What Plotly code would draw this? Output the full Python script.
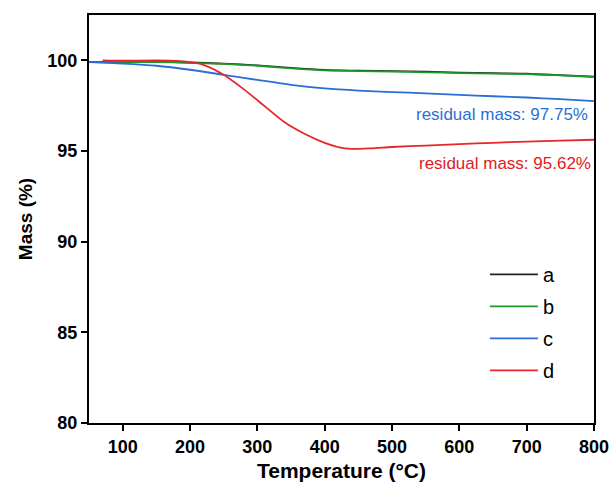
import plotly.graph_objects as go

# TGA curves: temperature (°C) vs. remaining mass (%)
temp_a = [50, 100, 150, 200, 250, 300, 350, 400, 450, 500, 550, 600, 650, 700, 750, 800]
mass_a = [99.92, 99.92, 99.92, 99.88, 99.82, 99.72, 99.58, 99.47, 99.43, 99.40, 99.37, 99.32, 99.29, 99.26, 99.18, 99.10]

temp_b = [50, 100, 150, 200, 250, 300, 350, 400, 450, 500, 550, 600, 650, 700, 750, 800]
mass_b = [99.90, 99.91, 99.90, 99.86, 99.80, 99.70, 99.56, 99.45, 99.41, 99.38, 99.34, 99.30, 99.27, 99.24, 99.17, 99.08]

temp_c = [50, 100, 150, 200, 250, 300, 350, 400, 450, 500, 550, 600, 650, 700, 750, 800]
mass_c = [99.90, 99.82, 99.70, 99.48, 99.20, 98.92, 98.65, 98.45, 98.33, 98.25, 98.18, 98.10, 98.02, 97.95, 97.86, 97.75]

temp_d = [70, 100, 150, 180, 200, 220, 250, 280, 310, 340, 370, 400, 420, 440, 470, 500, 550, 600, 650, 700, 750, 800]
mass_d = [100.0, 99.98, 99.99, 99.97, 99.90, 99.75, 99.20, 98.40, 97.50, 96.60, 95.95, 95.45, 95.22, 95.12, 95.15, 95.22, 95.30, 95.38, 95.45, 95.52, 95.57, 95.62]

series_names = ["a", "b", "c", "d"]
series_colors = ["#222222", "#1e9a2a", "#2a6fd6", "#e8262a"]

residual_labels = ["residual mass: 97.75%", "residual mass: 95.62%"]
label_colors = ["#2a6fd6", "#e0201e"]

FONT = "Liberation Sans, Arial"

fig = go.Figure()
curves = [(temp_a, mass_a), (temp_b, mass_b), (temp_c, mass_c), (temp_d, mass_d)]
for (x, y), name, color in zip(curves, series_names, series_colors):
    fig.add_trace(go.Scatter(
        x=x, y=y, mode="lines", name=name, legendgroup=name,
        line=dict(color=color, width=1.8, shape="spline", smoothing=0.8),
    ))

fig.add_annotation(x=794, y=97.02, xref="x", yref="y", text=residual_labels[0],
                   showarrow=False, xanchor="right", yanchor="middle",
                   font=dict(family=FONT, size=17, color=label_colors[0]))
fig.add_annotation(x=799, y=94.31, xref="x", yref="y", text=residual_labels[1],
                   showarrow=False, xanchor="right", yanchor="middle",
                   font=dict(family=FONT, size=17, color=label_colors[1]))

axis_common = dict(
    showline=True, linecolor="black", linewidth=2, mirror=True,
    ticks="outside", ticklen=6, tickwidth=1.5, tickcolor="black",
    showgrid=False, zeroline=False, automargin=False,
    tickfont=dict(family=FONT, size=18, color="black", weight="bold"),
)

fig.update_layout(
    width=614, height=491,
    margin=dict(l=89, r=20, t=15, b=68),
    paper_bgcolor="white", plot_bgcolor="white",
    xaxis=dict(range=[50, 800], tickvals=[100, 200, 300, 400, 500, 600, 700, 800],
               title=dict(text="<b>Temperature (°C)</b>", standoff=8,
                          font=dict(family=FONT, size=21, color="black")),
               **axis_common),
    yaxis=dict(range=[80, 102.5], tickvals=[80, 85, 90, 95, 100],
               title=dict(text="<b>Mass (%)</b>", standoff=10,
                          font=dict(family=FONT, size=19, color="black")),
               **axis_common),
    legend=dict(x=0.784, y=0.412, xanchor="left", yanchor="top",
                bgcolor="rgba(0,0,0,0)", borderwidth=0,
                font=dict(family=FONT, size=20, color="black"),
                itemwidth=48, tracegroupgap=3),
    showlegend=True,
)

fig.write_html("out.html")
